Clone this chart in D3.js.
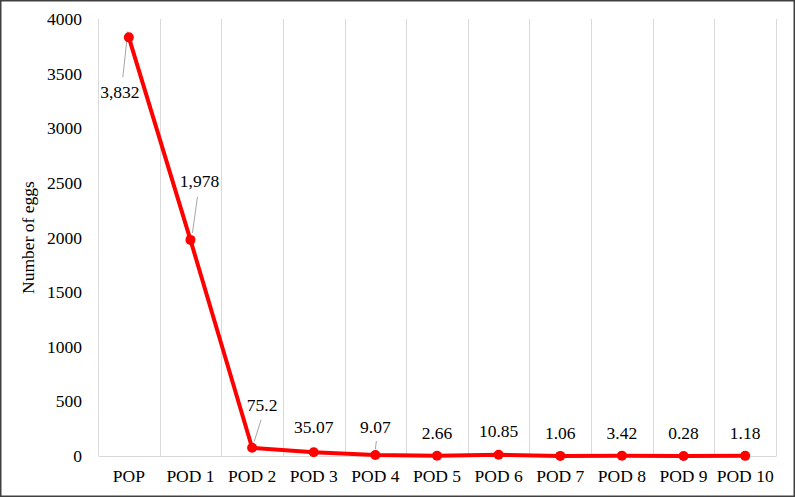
<!DOCTYPE html>
<html><head><meta charset="utf-8">
<script src="https://cdn.jsdelivr.net/npm/d3@7"></script>
<style>body{margin:0;background:#fff}svg{display:block}svg text{font-family:"Liberation Serif","Times New Roman","DejaVu Serif",serif !important;fill:#000}</style>
</head><body><svg id="c" width="795" height="497"></svg>
<script>
const categories = ["POP","POD 1","POD 2","POD 3","POD 4","POD 5","POD 6","POD 7","POD 8","POD 9","POD 10"];
const eggs = [3832,1978,75.2,35.07,9.07,2.66,10.85,1.06,3.42,0.28,1.18];
const valueLabels = ["3,832","1,978","75.2","35.07","9.07","2.66","10.85","1.06","3.42","0.28","1.18"];
const yTicks = [0,500,1000,1500,2000,2500,3000,3500,4000];

const W=795,H=497, m={l:98,r:19,t:19,b:41};
const FS=17.5;
const svg=d3.select("#c");
svg.append("rect").attr("x",0.75).attr("y",0.75).attr("width",W-1.5).attr("height",H-1.5).attr("fill","#fff").attr("stroke","#404040").attr("stroke-width",1.5);

const x=d3.scaleBand().domain(categories).range([m.l,W-m.r]);
const y=d3.scaleLinear().domain([0,4000]).range([H-m.b,m.t]);

// vertical gridlines at category boundaries
const bounds=categories.map(c=>x(c)).concat([x.range()[1]]);
svg.append("g").selectAll("line").data(bounds).join("line")
  .attr("x1",d=>Math.round(d)+0.5).attr("x2",d=>Math.round(d)+0.5)
  .attr("y1",y(4000)).attr("y2",y(0)).attr("stroke","#d9d9d9").attr("stroke-width",1);

// x axis
const xa=svg.append("g").attr("transform",`translate(0,${y(0)})`).call(d3.axisBottom(x).tickSize(0).tickPadding(14));
xa.attr("font-family",null).attr("font-size",null);
xa.select(".domain").attr("stroke","#d9d9d9");
xa.selectAll("text").attr("font-size",FS);

// y axis
const ya=svg.append("g").attr("transform",`translate(${m.l},0)`).call(d3.axisLeft(y).tickValues(yTicks).tickSize(0).tickPadding(16).tickFormat(d3.format("d")));
ya.attr("font-family",null).attr("font-size",null);
ya.select(".domain").remove();
ya.selectAll("text").attr("font-size",FS);

svg.append("text").attr("transform",`translate(34,${(y(0)+y(4000))/2}) rotate(-90)`)
  .attr("text-anchor","middle").attr("font-size",FS).text("Number of eggs");

const cx=d=>x(d)+x.bandwidth()/2;
const pts=categories.map((c,i)=>({c,v:eggs[i],l:valueLabels[i],i}));

// label placement (offsets from point)
const lab=[{dx:-9,dy:57},{dx:9,dy:-57},{dx:10,dy:-41},{dx:0,dy:-23},{dx:0,dy:-26},{dx:0,dy:-21},{dx:0,dy:-22},{dx:0,dy:-21},{dx:0,dy:-21},{dx:0,dy:-21},{dx:0,dy:-21}];
const leader=[{x1:-1,y1:-6,x2:-6,y2:40},{x1:2,y1:-7,x2:7,y2:-43},{x1:2,y1:-6,x2:9,y2:-28},null,{x1:0,y1:-6,x2:1,y2:-14},null,null,null,null,null,null];

svg.append("g").selectAll("line").data(pts.filter(p=>leader[p.i])).join("line")
  .attr("x1",p=>cx(p.c)+leader[p.i].x1).attr("y1",p=>y(p.v)+leader[p.i].y1)
  .attr("x2",p=>cx(p.c)+leader[p.i].x2).attr("y2",p=>y(p.v)+leader[p.i].y2)
  .attr("stroke","#a6a6a6").attr("stroke-width",1);

svg.append("path").datum(pts).attr("fill","none").attr("stroke","#ff0000").attr("stroke-width",4).attr("stroke-linejoin","round")
  .attr("d",d3.line().x(p=>cx(p.c)).y(p=>y(p.v)));
svg.append("g").selectAll("circle").data(pts).join("circle")
  .attr("cx",p=>cx(p.c)).attr("cy",p=>y(p.v)).attr("r",5).attr("fill","#ff0000");

svg.append("g").selectAll("text").data(pts).join("text")
  .attr("x",p=>cx(p.c)+lab[p.i].dx).attr("y",p=>y(p.v)+lab[p.i].dy)
  .attr("text-anchor","middle").attr("dominant-baseline","middle").attr("font-size",FS).text(p=>p.l);
</script></body></html>
